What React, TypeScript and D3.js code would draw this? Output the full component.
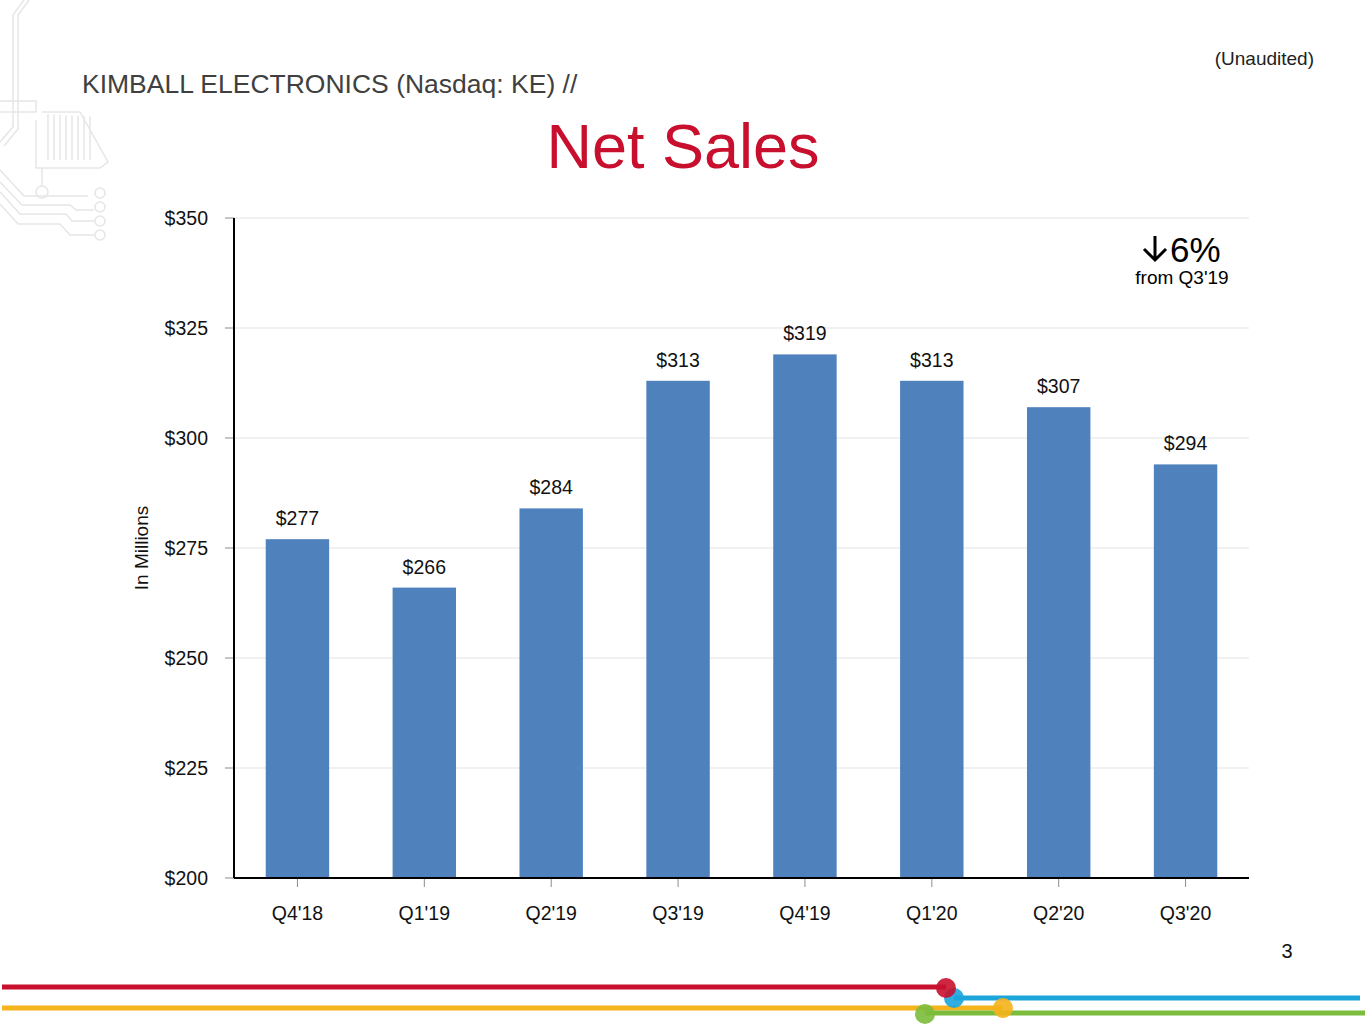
import { useMemo } from 'react';
import * as d3 from 'd3';

const quarters = ["Q4'18", "Q1'19", "Q2'19", "Q3'19", "Q4'19", "Q1'20", "Q2'20", "Q3'20"];
const netSales = [277, 266, 284, 313, 319, 313, 307, 294];
const yTickValues = [200, 225, 250, 275, 300, 325, 350];

const BAR_FILL = '#4f81bd';
const FONT = "'Liberation Sans', Arial, Helvetica, sans-serif";

const width = 1365;
const height = 1024;
const plot = { left: 234, right: 1249, top: 218, bottom: 878 };

export default function App() {
  const { x, y } = useMemo(() => {
    const x = d3
      .scaleBand()
      .domain(quarters)
      .range([plot.left, plot.right])
      .paddingInner(0.5)
      .paddingOuter(0.25);
    const y = d3.scaleLinear().domain([200, 350]).range([plot.bottom, plot.top]);
    return { x, y };
  }, []);

  return (
    <svg
      width={width}
      height={height}
      viewBox={`0 0 ${width} ${height}`}
      style={{ position: 'absolute', left: 0, top: 0, background: '#fff' }}
      fontFamily={FONT}
    >
      {/* faint circuit decoration, top-left */}
      <g fill='none' stroke='#e6e6e6' strokeWidth={1.5}>
        <path d='M24,0 L13,15 L13,127 L0,142' />
        <path d='M29,0 L18,15 L18,129 L4,146' />
        <path d='M0,101 L36,101 L36,112 L0,112' />
        <path d='M42,112 L80,112 L108,162 L100,168 L36,168 L36,120' />
        {[48, 54, 60, 66, 72, 78, 84, 90].map((hx) => (
          <line key={hx} x1={hx} x2={hx} y1={114 + (hx - 42) * 0.05} y2={160} />
        ))}
        <path d='M42,168 L42,186' />
        <circle cx={42} cy={192} r={6} />
        <path d='M0,170 L24,196 L88,196' />
        <path d='M0,182 L22,205 L70,205 L76,210 L94,210' />
        <path d='M0,192 L20,214 L66,214 L72,221 L94,221' />
        <path d='M0,204 L18,224 L60,224 L70,235 L94,235' />
        {[193, 207, 221, 235].map((cy) => (
          <circle key={cy} cx={100} cy={cy} r={5} />
        ))}
      </g>

      <text x={82} y={93} fontSize={26.5} fill='#404040'>
        KIMBALL ELECTRONICS (Nasdaq: KE) //
      </text>
      <text x={1314} y={65} fontSize={19} fill='#222' textAnchor='end'>
        (Unaudited)
      </text>
      <text x={683} y={168} fontSize={63} fill='#c8102e' textAnchor='middle'>
        Net Sales
      </text>

      {/* gridlines */}
      {yTickValues.slice(1).map((t) => (
        <line key={t} x1={plot.left} x2={plot.right} y1={y(t)} y2={y(t)} stroke='#e3e3e3' strokeWidth={1} />
      ))}

      {/* y ticks and labels */}
      {yTickValues.map((t) => (
        <g key={t}>
          <line x1={plot.left - 9} x2={plot.left} y1={y(t)} y2={y(t)} stroke='#8c8c8c' />
          <text x={208} y={y(t)} dy='0.35em' textAnchor='end' fontSize={19.5} fill='#111'>
            {`$${t}`}
          </text>
        </g>
      ))}

      <text
        transform={`translate(148, ${(plot.top + plot.bottom) / 2}) rotate(-90)`}
        textAnchor='middle'
        fontSize={19}
        fill='#111'
      >
        In Millions
      </text>

      {/* bars */}
      {quarters.map((q, i) => {
        const bx = x(q) ?? 0;
        const cx = bx + x.bandwidth() / 2;
        return (
          <g key={q}>
            <rect x={bx} y={y(netSales[i])} width={x.bandwidth()} height={plot.bottom - y(netSales[i])} fill={BAR_FILL} />
            <text x={cx} y={y(netSales[i]) - 14} textAnchor='middle' fontSize={19.5} fill='#111'>
              {`$${netSales[i]}`}
            </text>
            <line x1={cx} x2={cx} y1={plot.bottom} y2={plot.bottom + 9} stroke='#8c8c8c' />
            <text x={cx} y={920} textAnchor='middle' fontSize={19.5} fill='#111'>
              {q}
            </text>
          </g>
        );
      })}

      {/* axes */}
      <line x1={plot.left} x2={plot.left} y1={plot.top} y2={plot.bottom} stroke='#000' strokeWidth={2} />
      <line x1={plot.left} x2={plot.right} y1={plot.bottom} y2={plot.bottom} stroke='#000' strokeWidth={2} />

      {/* change annotation */}
      <path d='M1155,236 V260 M1144,249 L1155,260 L1166,249' fill='none' stroke='#000' strokeWidth={3} />
      <text x={1170} y={262} fontSize={35} fill='#000'>
        6%
      </text>
      <text x={1182} y={284} textAnchor='middle' fontSize={19} fill='#000'>
        from Q3'19
      </text>

      <text x={1287} y={958} textAnchor='middle' fontSize={20} fill='#111'>
        3
      </text>

      {/* footer stripes */}
      <g strokeWidth={5} strokeLinecap='butt'>
        <line x1={2} x2={946} y1={987} y2={987} stroke='#c8102e' />
        <line x1={954} x2={1360} y1={998} y2={998} stroke='#1ba5db' />
        <line x1={2} x2={1003} y1={1008} y2={1008} stroke='#f5b31c' />
        <line x1={925} x2={1365} y1={1013} y2={1013} stroke='#7cbc3c' />
      </g>
      <circle cx={954} cy={998} r={10} fill='#1ba5db' opacity={0.9} />
      <circle cx={946} cy={988} r={10} fill='#c8102e' opacity={0.9} />
      <circle cx={1003} cy={1008} r={10} fill='#f5b31c' opacity={0.9} />
      <circle cx={925} cy={1014} r={10} fill='#7cbc3c' opacity={0.9} />
    </svg>
  );
}
